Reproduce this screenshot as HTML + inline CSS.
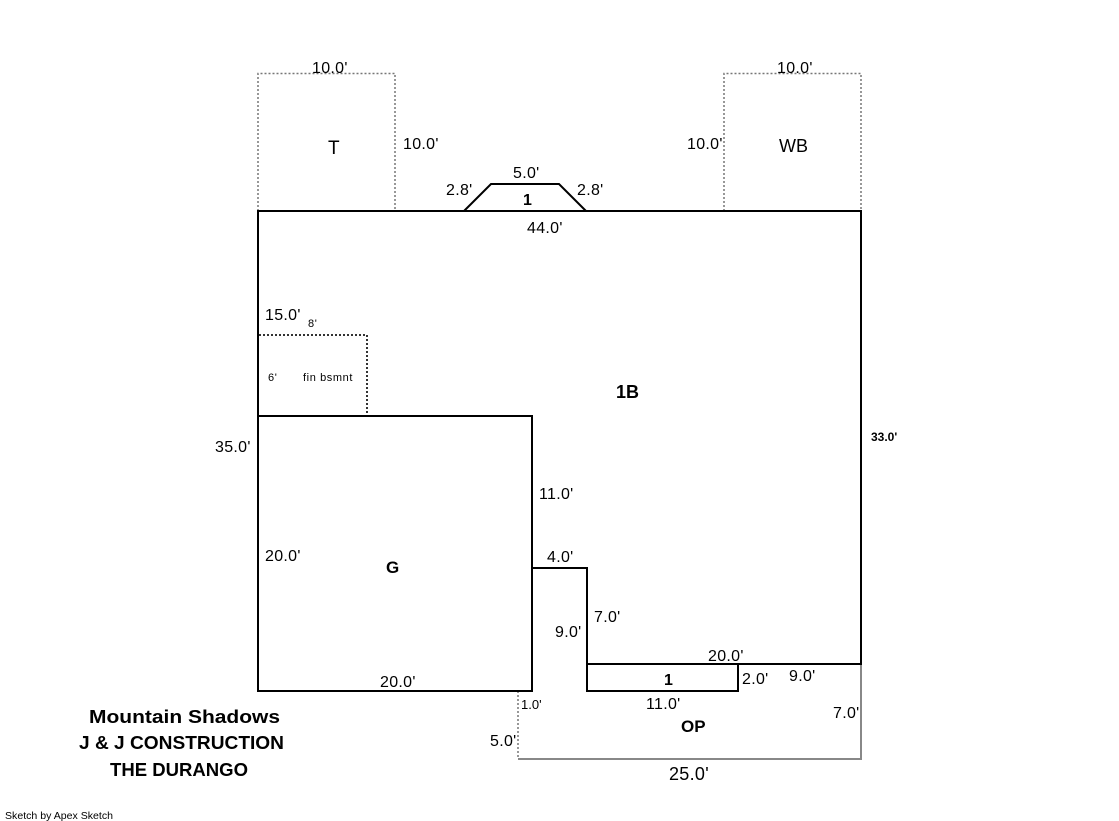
<!DOCTYPE html>
<html><head><style>
html,body{margin:0;padding:0;background:#fff;}
svg{display:block;}
text{font-family:"Liberation Sans",Arial,sans-serif;fill:#000;}
</style></head><body>
<svg width="1119" height="821" viewBox="0 0 1119 821" xmlns="http://www.w3.org/2000/svg">
<g fill="none" stroke="#777" stroke-width="1.5" stroke-dasharray="2,2">
<path d="M258,211 V73.5 H395 V211"/>
<path d="M724,211 V73.5 H861 V211"/>
<path d="M518,691 V759"/>
</g>
<g fill="none" stroke="#333" stroke-width="2" stroke-dasharray="2,2">
<path d="M259,335 H367 V416"/>
</g>
<path d="M518,759 H861 V664" fill="none" stroke="#888" stroke-width="2"/>
<g fill="none" stroke="#000" stroke-width="2">
<path d="M258,211 H861 V664 H587 V568 H532 V416 H258 Z"/>
<path d="M258,416 V691 H532 V568"/>
<path d="M587,664 V691 H738 V664"/>
<path d="M464,211 L491,184 H559 L586,211"/>
</g>
<g font-size="16" letter-spacing="0.3">
<text x="312" y="73">10.0'</text>
<text x="777" y="73">10.0'</text>
<text x="403" y="149">10.0'</text>
<text x="687" y="149">10.0'</text>
<text x="513" y="178">5.0'</text>
<text x="446" y="195">2.8'</text>
<text x="577" y="195">2.8'</text>
<text x="527" y="233">44.0'</text>
<text x="265" y="320">15.0'</text>
<text x="215" y="452">35.0'</text>
<text x="539" y="499">11.0'</text>
<text x="547" y="562">4.0'</text>
<text x="594" y="622">7.0'</text>
<text x="555" y="637">9.0'</text>
<text x="265" y="561">20.0'</text>
<text x="380" y="687">20.0'</text>
<text x="708" y="661">20.0'</text>
<text x="742" y="684">2.0'</text>
<text x="789" y="681">9.0'</text>
<text x="646" y="709">11.0'</text>
<text x="833" y="718">7.0'</text>
<text x="490" y="746">5.0'</text>
<text x="669" y="780" font-size="18">25.0'</text>
</g>
<text x="521" y="709" font-size="13">1.0'</text>
<text x="328" y="154" font-size="19">T</text>
<text x="779" y="152" font-size="18">WB</text>
<g font-size="11" letter-spacing="0.6">
<text x="308" y="327">8'</text>
<text x="268" y="381">6'</text>
<text x="303" y="381">fin bsmnt</text>
</g>
<g font-weight="bold">
<text x="523" y="205" font-size="16">1</text>
<text x="616" y="398" font-size="18">1B</text>
<text x="386" y="573" font-size="17">G</text>
<text x="664" y="685" font-size="16">1</text>
<text x="681" y="732" font-size="17">OP</text>
<text x="871" y="441" font-size="12">33.0'</text>
<text x="89" y="723" font-size="18" textLength="191" lengthAdjust="spacingAndGlyphs">Mountain Shadows</text>
<text x="79" y="749" font-size="18" textLength="205" lengthAdjust="spacingAndGlyphs">J &amp; J CONSTRUCTION</text>
<text x="110" y="776" font-size="18" textLength="138" lengthAdjust="spacingAndGlyphs">THE DURANGO</text>
</g>
<text x="5" y="819" font-size="10.5" textLength="108" lengthAdjust="spacingAndGlyphs">Sketch by Apex Sketch</text>
</svg>
</body></html>
